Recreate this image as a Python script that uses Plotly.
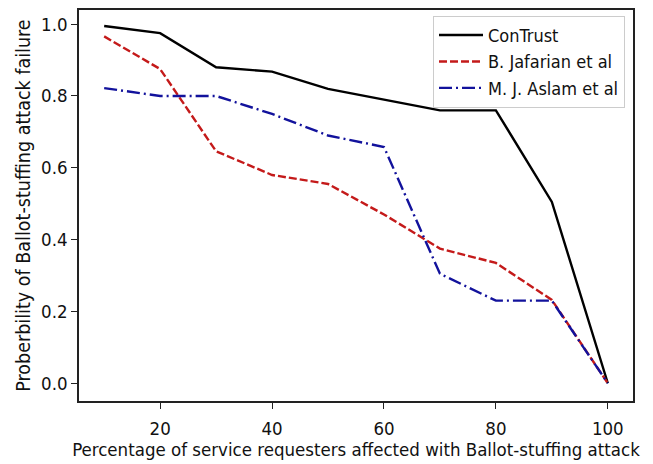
import plotly.graph_objects as go

# Percentage of service requesters affected by the attack
percent_affected = [10, 20, 30, 40, 50, 60, 70, 80, 90, 100]

# Probability that the ballot-stuffing attack fails, per model
contrust = [0.995, 0.975, 0.88, 0.868, 0.82, 0.79, 0.76, 0.76, 0.505, 0.0]
jafarian = [0.966, 0.875, 0.646, 0.58, 0.555, 0.47, 0.375, 0.335, 0.232, 0.0]
aslam = [0.822, 0.80, 0.80, 0.75, 0.69, 0.658, 0.305, 0.23, 0.23, 0.0]

series_names = ["ConTrust", "B. Jafarian et al", "M. J. Aslam et al"]

FONT = "DejaVu Sans Condensed, DejaVu Sans, sans-serif"

fig = go.Figure()
fig.add_trace(go.Scatter(
    x=percent_affected, y=contrust, name=series_names[0], mode="lines",
    line=dict(color="#000000", width=2.4),
))
fig.add_trace(go.Scatter(
    x=percent_affected, y=jafarian, name=series_names[1], mode="lines",
    line=dict(color="#c41a1a", width=2.4, dash="8px,3px"),
))
fig.add_trace(go.Scatter(
    x=percent_affected, y=aslam, name=series_names[2], mode="lines",
    line=dict(color="#12129c", width=2.4, dash="13px,4px,2px,4px"),
))

axis_common = dict(
    showline=True, linecolor="#222222", linewidth=1.5, mirror=True,
    ticks="outside", ticklen=6, tickwidth=1.3, tickcolor="#222222",
    showgrid=False, zeroline=False,
    tickfont=dict(family=FONT, size=18.5, color="#111111"),
)

fig.update_layout(
    width=653, height=464,
    margin=dict(l=79, r=20, t=8, b=57),
    paper_bgcolor="white", plot_bgcolor="white",
    font=dict(family=FONT, size=18, color="#111111"),
    xaxis=dict(
        range=[5.5, 104.5], tickvals=[20, 40, 60, 80, 100],
        ticklabelstandoff=4,
        title=dict(text="Percentage of service requesters affected with Ballot-stuffing attack",
                   font=dict(family=FONT, size=18.5), standoff=4),
        **axis_common,
    ),
    yaxis=dict(
        range=[-0.0495, 1.0395], tickvals=[0, 0.2, 0.4, 0.6, 0.8, 1.0],
        tickformat=".1f",
        title=dict(text="Proberbility of Ballot-stuffing attack failure",
                   font=dict(family=FONT, size=19.5), standoff=5),
        **axis_common,
    ),
    legend=dict(
        x=0.639, y=0.985, xanchor="left", yanchor="top",
        bgcolor="rgba(255,255,255,0.85)", bordercolor="#cccccc", borderwidth=1,
        font=dict(family=FONT, size=18, color="#111111"),
        itemwidth=44, tracegroupgap=0,
    ),
    showlegend=True,
)

fig.write_html("out.html")
